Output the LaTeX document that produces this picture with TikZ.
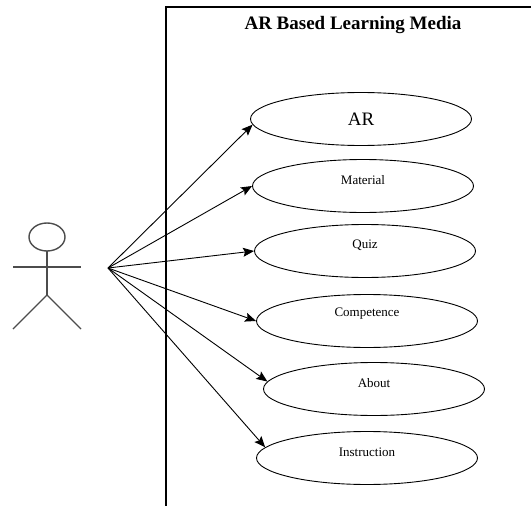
\documentclass[tikz,border=0pt]{standalone}
\usepackage{fontspec}
\setmainfont{Liberation Serif}
\usetikzlibrary{shapes.geometric,arrows.meta}
\begin{document}
\begin{tikzpicture}[x=1pt,y=-1pt,
  usecase/.style={ellipse,draw,line width=0.9pt,minimum width=221pt,minimum height=53pt,inner sep=0pt},
  uclabel/.style={font=\fontsize{13}{15}\selectfont,inner sep=0pt},
  actorline/.style={draw=black!70,line width=1.4pt},
  assoc/.style={draw,line width=0.9pt,-{Stealth[length=11pt,width=9pt,inset=2pt]}}]
  \useasboundingbox (0,0) rectangle (531,506);
  % system boundary
  \draw[line width=1.3pt] (166,506) -- (166,7) -- (532,7);
  \node[font=\bfseries\fontsize{19}{22}\selectfont] (title) at (353,25) {AR Based Learning Media};
  % actor
  \draw[actorline] (47,237) ellipse (18 and 14);
  \draw[actorline] (47,251) -- (47,295);
  \draw[actorline] (13,267) -- (81,267);
  \draw[actorline] (13,329) -- (47,295) -- (81,329);
  \coordinate (hand) at (108,268);
  % use cases
  \node[usecase] (ar)  at (361,119) {};
  \node[usecase] (mat) at (363,186) {};
  \node[usecase] (quiz) at (365,251) {};
  \node[usecase] (comp) at (367,321) {};
  \node[usecase] (about) at (374,389) {};
  \node[usecase] (ins) at (367,458) {};
  \node[font=\fontsize{19}{22}\selectfont,inner sep=0pt] (larText) at (ar.center) {AR};
  \node[uclabel] (lmat) at ([yshift=6pt]mat.center) {Material};
  \node[uclabel] (lquiz) at ([yshift=6pt]quiz.center) {Quiz};
  \node[uclabel] (lcomp) at ([yshift=7pt]comp.center) {Competence};
  \node[uclabel] (labout) at ([yshift=6pt]about.center) {About};
  \node[uclabel] (lins) at ([yshift=6pt]ins.center) {Instruction};
  % associations
  \draw[assoc] (hand) -- (ar.183);
  \draw[assoc] (hand) -- (mat.west);
  \draw[assoc] (hand) -- (quiz.west);
  \draw[assoc] (hand) -- (comp.west);
  \draw[assoc] (hand) -- (about.176);
  \draw[assoc] (hand) -- (ins.174);
\end{tikzpicture}
\end{document}
